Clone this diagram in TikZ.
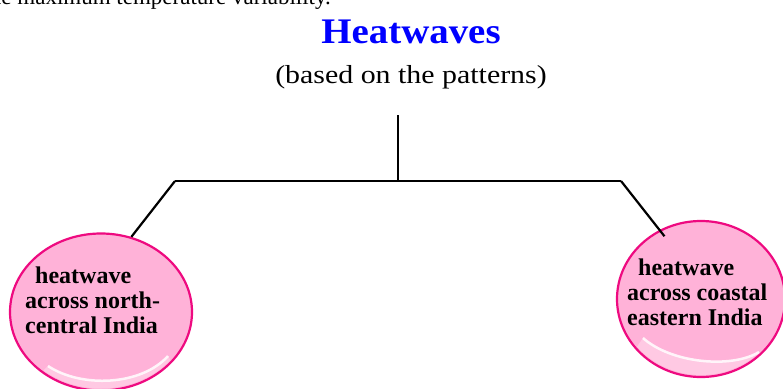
\documentclass[tikz,border=0pt]{standalone}
\usepackage{fontspec}
\setmainfont{Liberation Serif}
\newfontfamily\widerm{Liberation Serif}[FakeStretch=1.15]
\newfontfamily\titlerm{Liberation Serif}[FakeStretch=1.08]
\usepackage{tikz}
\usetikzlibrary{calc, positioning, shapes.geometric}
\usepackage{xcolor}

\definecolor{bubblefill}{RGB}{255,178,216}
\definecolor{bubbleedge}{RGB}{238,10,128}
\definecolor{titleblue}{RGB}{0,0,255}

\tikzset{
  heading/.style={font=\titlerm\bfseries\fontsize{36}{40}\selectfont, text=titleblue, inner sep=0},
  subhead/.style={font=\widerm\fontsize{26}{30}\selectfont, inner sep=0},
  bodytext/.style={font=\fontsize{23}{27}\selectfont, inner sep=0},
  bubble/.style={ellipse, draw=bubbleedge, line width=2.2pt, fill=bubblefill, inner sep=0},
  bubtext/.style={font=\bfseries\fontsize{24}{25}\selectfont, align=left, inner sep=0, anchor=west},
  shine/.style={white, line width=2.5pt, opacity=0.85},
  link/.style={line width=2.2pt}
}

\begin{document}
\begin{tikzpicture}[x=1pt, y=-1pt]
    \useasboundingbox (0,0) rectangle (783,388);
    \clip (0,0) rectangle (783,388);
    % cut-off line of the text above
    \node[bodytext, anchor=base east] (prev) at (331,5) {the maximum temperature variability.};
    \node[heading, anchor=base] (head) at (411,43) {Heatwaves};
    \node[subhead, anchor=base] (sub) at (411,83) {(based on the patterns)};
    % tree
    \coordinate (stem) at (398,115);
    \coordinate (hub)  at (398,181);
    \coordinate (lj)   at (175,181);
    \coordinate (rj)   at (621,181);
    \node[bubble, minimum width=182, minimum height=157] (north) at (101,312) {};
    \node[bubble, minimum width=168, minimum height=156] (coast) at (701,299) {};
    % lighter band at the bottom of each bubble
    \begin{scope}
      \clip (north) ellipse [x radius=89, y radius=76.5];
      \fill[white, opacity=0.3] ($(north)+(-53,54)$) .. controls ($(north)+(-20,76)$) and ($(north)+(40,74)$) .. ($(north)+(67,44)$) -- ($(north)+(100,100)$) -- ($(north)+(-100,100)$) -- cycle;
    \end{scope}
    \begin{scope}
      \clip (coast) ellipse [x radius=82, y radius=76];
      \fill[white, opacity=0.3] ($(coast)+(-58,39)$) .. controls ($(coast)+(-30,64)$) and ($(coast)+(30,70)$) .. ($(coast)+(58,53)$) -- ($(coast)+(100,100)$) -- ($(coast)+(-100,100)$) -- cycle;
    \end{scope}
    \draw[shine] ($(north)+(-53,54)$) .. controls ($(north)+(-20,76)$) and ($(north)+(40,74)$) .. ($(north)+(67,44)$);
    \draw[shine] ($(coast)+(-58,39)$) .. controls ($(coast)+(-30,64)$) and ($(coast)+(30,70)$) .. ($(coast)+(58,53)$);
    \node[bubtext] (northtxt) at ($(north)+(-76,-12)$) {\hspace*{10pt}heatwave\\across north-\\central India};
    \node[bubtext] (coasttxt) at ($(coast)+(-74,-7)$) {\hspace*{11pt}heatwave\\across coastal\\eastern India};
    \draw[link] (stem) -- (hub);
    \draw[link] (lj) -- (rj);
    \draw[link] (lj) -- (north.68);
    \draw[link, shorten >=-8pt] (rj) -- (coast.121);
\end{tikzpicture}
\end{document}
